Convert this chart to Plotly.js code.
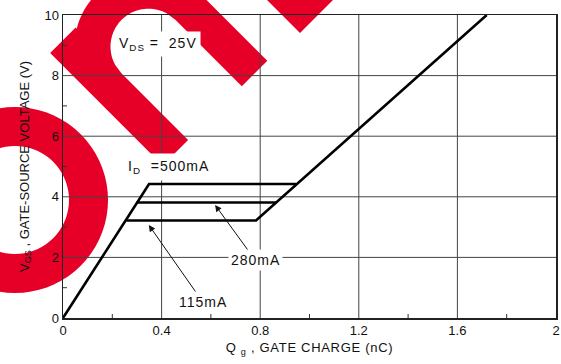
<!DOCTYPE html>
<html>
<head>
<meta charset="utf-8">
<script src="https://cdn.plot.ly/plotly-3.0.1.min.js"></script>
<style>
html,body{margin:0;padding:0;background:#fff;overflow:hidden;}
#gsPlot{width:561px;height:364px;}
.annotation-text{letter-spacing:1px;}
.xtitle{letter-spacing:0.7px;}
</style>
</head>
<body>
<div id="gsPlot"></div>
<script>
// Data
const qg500 = [0, 0.349, 0.945];
const vgs500 = [0, 4.42, 4.42];
const qg280 = [0.298, 0.865];
const vgs280 = [3.81, 3.81];
const qg115 = [0.257, 0.783, 1.719];
const vgs115 = [3.22, 3.22, 10];

const xTickVals = [0, 0.4, 0.8, 1.2, 1.6, 2];
const xTickText = ['0', '0.4', '0.8', '1.2', '1.6', '2'];
const yTickVals = [0, 2, 4, 6, 8, 10];
const yTickText = ['0', '2', '4', '6', '8', '10'];
const xMinorTicks = [0.2, 0.6, 1.0, 1.4, 1.8];
const yMinorTicks = [1, 3, 5, 7, 9];

const chartFont = 'Liberation Sans, Arial, sans-serif';

(function drawChart() {
  const mg = {l: 63, r: 5, t: 15, b: 46, autoexpand: false};
  const cw = 561, ch = 364;
  const pw = cw - mg.l - mg.r, ph = ch - mg.t - mg.b;
  const xRange = [0, 2], yRange = [0, 10];
  const tickLenPx = 4;
  const xTickLen = tickLenPx * (xRange[1] - xRange[0]) / pw;
  const yTickLen = tickLenPx * (yRange[1] - yRange[0]) / ph;

  // grid lines and minor ticks as line segments built from the tick arrays
  const gx = [], gy = [];
  xTickVals.slice(1, -1).forEach(v => { gx.push(v, v, null); gy.push(yRange[0], yRange[1], null); });
  yTickVals.slice(1, -1).forEach(v => { gx.push(xRange[0], xRange[1], null); gy.push(v, v, null); });
  const mx = [], my = [];
  xMinorTicks.forEach(v => { mx.push(v, v, null); my.push(yRange[0], yRange[0] + yTickLen, null); });
  yMinorTicks.forEach(v => { mx.push(xRange[0], xRange[0] + xTickLen, null); my.push(v, v, null); });

  const lineStyle = {color: '#000', width: 2.6};
  const traces = [
    {x: gx, y: gy, mode: 'lines', line: {color: '#444', width: 1}, hoverinfo: 'skip', connectgaps: false},
    {x: mx, y: my, mode: 'lines', line: {color: '#333', width: 1}, hoverinfo: 'skip', connectgaps: false},
    {x: qg500, y: vgs500, mode: 'lines', line: lineStyle, hoverinfo: 'skip'},
    {x: qg280, y: vgs280, mode: 'lines', line: lineStyle, hoverinfo: 'skip'},
    {x: qg115, y: vgs115, mode: 'lines', line: lineStyle, hoverinfo: 'skip'}
  ];

  // watermark (decoration), built in pixel space then mapped to paper
  const toPaper = (px, py) => [(px - mg.l) / pw, (ch - mg.b - py) / ph];
  const pathFrom = pts => pts.map((p, i) => { const q = toPaper(p[0], p[1]); return (i ? 'L' : 'M') + q[0].toFixed(4) + ',' + q[1].toFixed(4); }).join(' ') + ' Z';
  const arcPts = (cx, cy, r, a0, a1, n) => { const out = []; for (let i = 0; i <= n; i++) { const a = a0 + (a1 - a0) * i / n; out.push([cx + r * Math.cos(a), cy + r * Math.sin(a)]); } return out; };
  const ringPath = pathFrom(arcPts(15, 200, 93, 0, 2 * Math.PI, 72)) + ' ' + pathFrom(arcPts(15, 200, 54, 2 * Math.PI, 0, 72));
  const s2 = Math.SQRT2;
  const uvPt = (u, v) => [(u + v) / s2, (u - v) / s2];
  const vLo = -2, vLi = 34, vRi = 110, vRo = 146, uBase = 232, uStem = 73;
  const vc = (vLi + vRi) / 2, rIn = (vRi - vLi) / 2, rOut = (vRo - vLo) / 2, uc = 138;
  const nPts = [uvPt(uBase, vLo), uvPt(uStem, vLo), uvPt(uStem, vLi)];
  for (let i = 0; i <= 48; i++) { const v = vLi + (vRo - vLi) * i / 48; nPts.push(uvPt(uc - Math.sqrt(Math.max(0, rOut * rOut - (v - vc) * (v - vc))), v)); }
  nPts.push(uvPt(uBase, vRo), uvPt(uBase, vRi));
  for (let i = 0; i <= 48; i++) { const v = vRi - (vRi - vLi) * i / 48; nPts.push(uvPt(uc - Math.sqrt(Math.max(0, rIn * rIn - (v - vc) * (v - vc))), v)); }
  nPts.push(uvPt(uBase, vLi));
  const nPath = pathFrom(nPts);
  const diamondPath = pathFrom([[300, 33], [265, -2], [300, -37], [335, -2]]);
  const wmShape = p => ({type: 'path', path: p, xref: 'paper', yref: 'paper', fillcolor: '#e60028', line: {width: 0}, layer: 'below'});

  const axisCommon = {
    showline: true, mirror: true, linecolor: '#222', linewidth: 1.5,
    showgrid: false, zeroline: false, ticks: '', automargin: false,
    tickfont: {family: chartFont, size: 13, color: '#111'},
    fixedrange: true
  };

  const layout = {
    width: cw, height: ch, margin: mg,
    paper_bgcolor: '#fff', plot_bgcolor: 'rgba(0,0,0,0)',
    showlegend: false,
    xaxis: Object.assign({}, axisCommon, {
      range: xRange, tickmode: 'array', tickvals: xTickVals, ticktext: xTickText,
      title: {text: 'Q <sub>g</sub> , GATE CHARGE (nC)', font: {family: chartFont, size: 13, color: '#111'}, standoff: 6}
    }),
    yaxis: Object.assign({}, axisCommon, {
      range: yRange, tickmode: 'array', tickvals: yTickVals, ticktext: yTickText,
      title: {text: 'V<sub>GS</sub> , GATE-SOURCE VOLTAGE (V)', font: {family: chartFont, size: 13, color: '#111'}, standoff: 12}
    }),
    shapes: [wmShape(ringPath), wmShape(nPath), wmShape(diamondPath)],
    annotations: [
      {x: 0.385, y: 9.04, xref: 'x', yref: 'y', text: 'V<sub>DS</sub> =  25V', showarrow: false,
       font: {family: chartFont, size: 14, color: '#111'}, bgcolor: '#fff', borderpad: 3},
      {x: 0.426, y: 4.98, xref: 'x', yref: 'y', text: 'I<sub>D</sub>  =500mA', showarrow: false,
       font: {family: chartFont, size: 14, color: '#111'}, bgcolor: '#fff', borderpad: 4},
      {x: 0.617, y: 3.73, xref: 'x', yref: 'y', text: '280mA', showarrow: true, ax: 40, ay: 55,
       arrowhead: 2, arrowsize: 1.3, arrowwidth: 1, arrowcolor: '#111',
       font: {family: chartFont, size: 14, color: '#111'}, bgcolor: '#fff', borderpad: 2},
      {x: 0.348, y: 3.07, xref: 'x', yref: 'y', text: '115mA', showarrow: true, ax: 54, ay: 77,
       arrowhead: 2, arrowsize: 1.3, arrowwidth: 1, arrowcolor: '#111',
       font: {family: chartFont, size: 14, color: '#111'}, bgcolor: '#fff', borderpad: 2}
    ]
  };

  Plotly.newPlot('gsPlot', traces, layout, {staticPlot: true, displayModeBar: false});
})();
</script>
</body>
</html>
